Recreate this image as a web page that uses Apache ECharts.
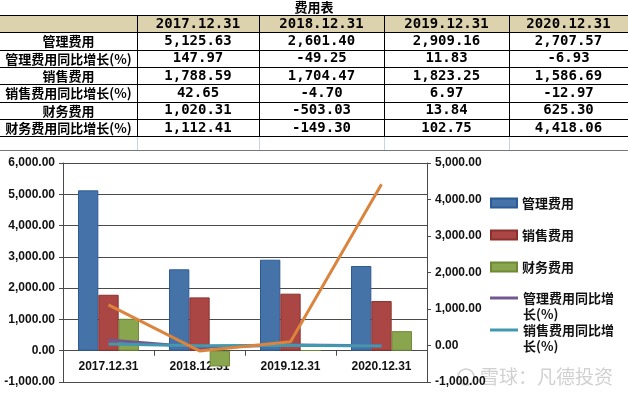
<!DOCTYPE html>
<html>
<head>
<meta charset="utf-8">
<script src="https://cdn.jsdelivr.net/npm/echarts@6/dist/echarts.min.js"></script>
<style>
  html, body { margin: 0; padding: 0; background: #fff; }
  #main { width: 628px; height: 396px; }
</style>
</head>
<body>
<div id="main"></div>
<script>
// data
var categories = ['2017.12.31', '2018.12.31', '2019.12.31', '2020.12.31'];
var mgmtFee = [5125.63, 2601.40, 2909.16, 2707.57];
var mgmtYoy = [147.97, -49.25, 11.83, -6.93];
var salesFee = [1788.59, 1704.47, 1823.25, 1586.69];
var salesYoy = [42.65, -4.70, 6.97, -12.97];
var finFee = [1020.31, -503.03, 13.84, 625.30];
var finYoy = [1112.41, -149.30, 102.75, 4418.06];
var rowNames = ['管理费用', '管理费用同比增长(%)', '销售费用', '销售费用同比增长(%)', '财务费用', '财务费用同比增长(%)'];
var rowValues = [mgmtFee, mgmtYoy, salesFee, salesYoy, finFee, finYoy];
var tableTitle = '费用表';
var leftMin = -1000, leftMax = 6000, rightMin = -1000, rightMax = 5000, step = 1000;

function fmt(v) {
  return v.toLocaleString('en-US', { minimumFractionDigits: 2, maximumFractionDigits: 2 });
}

// table drawn with graphic elements
var colX = [0, 137, 259, 384, 509, 628];
var tableTop = 15, rowH = 17.3;
var cellFont = 'bold 13px "Noto Sans CJK SC"';
var numFont = 'bold 14px "DejaVu Sans Mono", "Noto Sans CJK SC"';
var g = [];

g.push({ type: 'text', left: 'center', top: 1,
  style: { text: tableTitle, font: 'bold 13px "Noto Sans CJK SC"', fill: '#000' } });
g.push({ type: 'rect', shape: { x: 0, y: tableTop, width: 628, height: rowH }, style: { fill: '#dcd2ae' } });

for (var r = 0; r <= rowNames.length + 1; r++) {
  var y = Math.round(tableTop + r * rowH) + 0.5;
  g.push({ type: 'line', shape: { x1: 0, y1: y, x2: 628, y2: y }, style: { stroke: '#000', lineWidth: 1 } });
}
var tableBottom = Math.round(tableTop + (rowNames.length + 1) * rowH);
for (var c = 1; c < colX.length - 1; c++) {
  g.push({ type: 'line', shape: { x1: colX[c] + 0.5, y1: tableTop, x2: colX[c] + 0.5, y2: tableBottom },
    style: { stroke: '#000', lineWidth: 1 } });
  g.push({ type: 'line', shape: { x1: colX[c] + 0.5, y1: tableBottom + 1, x2: colX[c] + 0.5, y2: 150 },
    style: { stroke: '#c9d3e8', lineWidth: 1 } });
}
g.push({ type: 'line', shape: { x1: 0, y1: 150.5, x2: 628, y2: 150.5 }, style: { stroke: '#777', lineWidth: 1 } });

categories.forEach(function (cat, j) {
  g.push({ type: 'text', x: (colX[j + 1] + colX[j + 2]) / 2, y: tableTop + rowH / 2 + 0.5,
    style: { text: cat, font: numFont, fill: '#000', align: 'center', verticalAlign: 'middle' } });
});
rowNames.forEach(function (name, i) {
  var cy = tableTop + (i + 1.5) * rowH + 0.5;
  g.push({ type: 'text', x: (colX[0] + colX[1]) / 2, y: cy,
    style: { text: name, font: cellFont, fill: '#000', align: 'center', verticalAlign: 'middle' } });
  rowValues[i].forEach(function (v, j) {
    g.push({ type: 'text', x: (colX[j + 1] + colX[j + 2]) / 2, y: cy,
      style: { text: fmt(v), font: numFont, fill: '#000', align: 'center', verticalAlign: 'middle' } });
  });
});

// watermark
g.push({ type: 'circle', shape: { cx: 466, cy: 377, r: 8 }, style: { fill: 'none', stroke: 'rgba(150,150,150,0.45)', lineWidth: 1.5 } });
g.push({ type: 'text', x: 480, y: 377,
  style: { text: '雪球：凡德投资', font: '19px "Noto Sans CJK SC"', fill: 'rgba(150,150,150,0.45)', verticalAlign: 'middle' } });

// legends (one per item so each can sit where the original puts it)
var barColors = ['#4572A7', '#AA4643', '#89A54E'];
var barBorders = ['#2c5a96', '#8c302d', '#6e8a37'];
var lineColors = ['#71588F', '#4198AF', '#DB843D'];
var legendNames = ['管理费用', '销售费用', '财务费用', '管理费用同比增长(%)', '销售费用同比增长(%)'];
var legendTops = [195, 227, 259, 274, 306];
var legends = legendNames.map(function (n, i) {
  var isLine = i >= 3;
  return {
    orient: 'vertical', left: 490, top: legendTops[i], padding: 0,
    data: [n], itemWidth: isLine ? 28 : 26, itemHeight: isLine ? 3 : 9, itemGap: 5,
    icon: 'rect',
    selectedMode: false,
    // wrapped names: blank first line keeps the first text line level with the icon
    formatter: function (name) { return name.length > 8 ? ' \n' + name.slice(0, 7) + '\n' + name.slice(7) : name; },
    textStyle: { fontFamily: 'Noto Sans CJK SC', fontWeight: 'bold', fontSize: 13, color: '#111', lineHeight: 16 }
  };
});

var axisFont = { fontFamily: 'Liberation Sans', fontWeight: 'bold', fontSize: 12, color: '#111' };

// category axis sits on the left axis' zero line
var gridTop = 163, gridBottom = 14;
var plotH = 396 - gridTop - gridBottom;
var zeroOffset = plotH * (0 - leftMin) / (leftMax - leftMin);

var option = {
  animation: false,
  backgroundColor: '#fff',
  graphic: { elements: g },
  legend: legends,
  grid: { left: 63, right: 201, top: gridTop, bottom: gridBottom, outerBoundsMode: 'none' },
  xAxis: {
    type: 'category', data: categories, offset: -zeroOffset,
    axisLine: { onZero: false, lineStyle: { color: '#4a4a4a' } },
    axisTick: { show: true, alignWithLabel: false, length: 5, lineStyle: { color: '#4a4a4a' } },
    axisLabel: Object.assign({ margin: 10 }, axisFont)
  },
  yAxis: [
    { type: 'value', min: leftMin, max: leftMax, interval: step, position: 'left',
      axisLine: { show: true, lineStyle: { color: '#4a4a4a' } },
      axisTick: { show: true, length: 4, lineStyle: { color: '#4a4a4a' } },
      splitLine: { lineStyle: { color: '#4a4a4a' } },
      axisLabel: Object.assign({ margin: 8, formatter: fmt }, axisFont) },
    { type: 'value', min: rightMin, max: rightMax, interval: step, position: 'right',
      axisLine: { show: true, lineStyle: { color: '#4a4a4a' } },
      axisTick: { show: true, length: 4, lineStyle: { color: '#4a4a4a' } },
      splitLine: { show: false },
      axisLabel: Object.assign({ margin: 8, formatter: fmt }, axisFont) }
  ],
  series: [
    { name: '管理费用', type: 'bar', data: mgmtFee, barGap: '0%', barCategoryGap: '33%',
      itemStyle: { color: barColors[0], borderColor: barBorders[0], borderWidth: 1 } },
    { name: '销售费用', type: 'bar', data: salesFee,
      itemStyle: { color: barColors[1], borderColor: barBorders[1], borderWidth: 1 } },
    { name: '财务费用', type: 'bar', data: finFee,
      itemStyle: { color: barColors[2], borderColor: barBorders[2], borderWidth: 1 } },
    { name: '管理费用同比增长(%)', type: 'line', yAxisIndex: 1, data: mgmtYoy, symbol: 'none', z: 3,
      lineStyle: { color: lineColors[0], width: 3 }, itemStyle: { color: lineColors[0] } },
    { name: '销售费用同比增长(%)', type: 'line', yAxisIndex: 1, data: salesYoy, symbol: 'none', z: 4,
      lineStyle: { color: lineColors[1], width: 3 }, itemStyle: { color: lineColors[1] } },
    { name: '财务费用同比增长(%)', type: 'line', yAxisIndex: 1, data: finYoy, symbol: 'none', z: 5,
      lineStyle: { color: lineColors[2], width: 3 }, itemStyle: { color: lineColors[2] } }
  ]
};

var myChart = echarts.init(document.getElementById('main'));
myChart.setOption(option);
</script>
</body>
</html>
